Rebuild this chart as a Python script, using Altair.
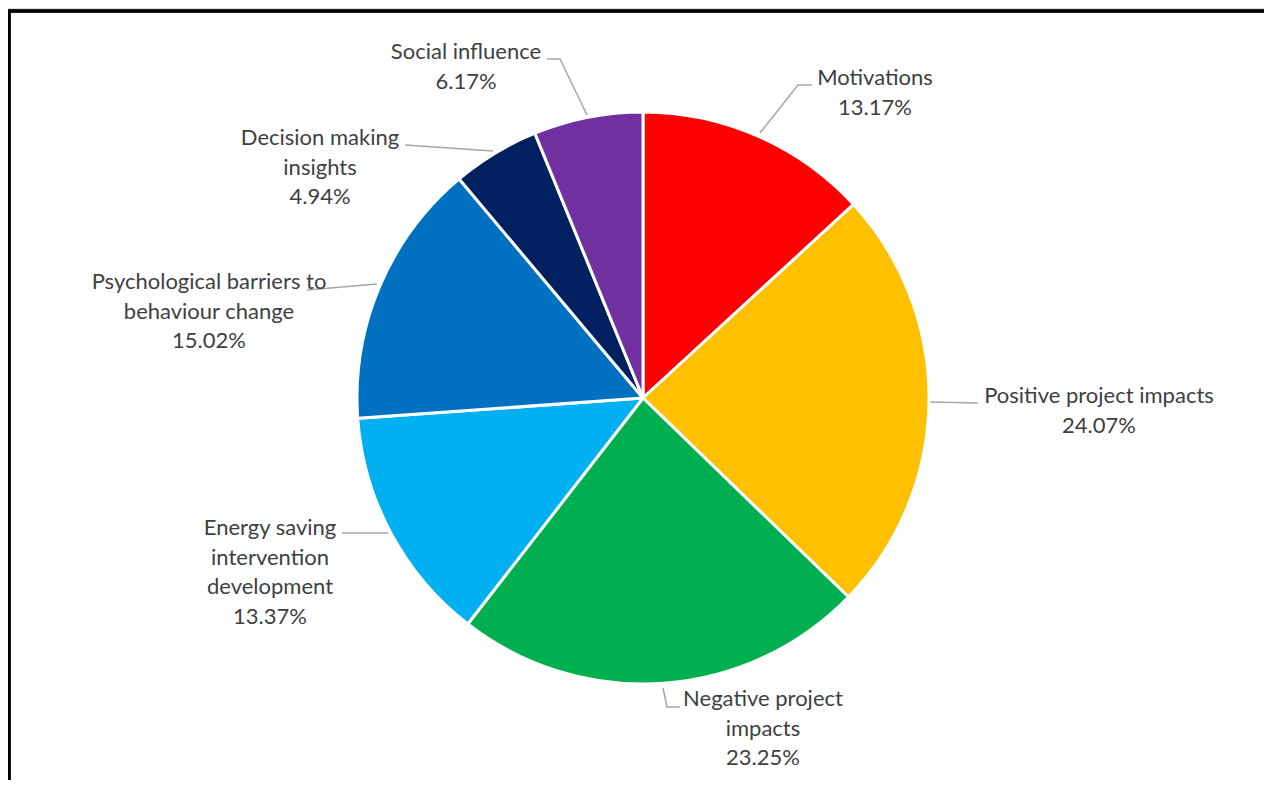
import altair as alt
import pandas as pd

# ---- data ----
categories = [
    "Motivations",
    "Positive project impacts",
    "Negative project impacts",
    "Energy saving intervention development",
    "Psychological barriers to behaviour change",
    "Decision making insights",
    "Social influence",
]
shares = [13.17, 24.07, 23.25, 13.37, 15.02, 4.94, 6.17]
colors = ["#FF0000", "#FFC000", "#00B050", "#00B0F0", "#0070C0", "#002060", "#7030A0"]
label_lines = [
    "Motivations",
    "Positive project impacts",
    "Negative project\nimpacts",
    "Energy saving\nintervention\ndevelopment",
    "Psychological barriers to\nbehaviour change",
    "Decision making\ninsights",
    "Social influence",
]

# ---- layout (page pixel coordinates; y = first text line centre) ----
CX, CY, R = 643, 398, 286
label_xy = [(875, 78), (1099, 396), (763, 699), (270, 528), (209, 282), (320, 138), (466, 52)]
leaders = [
    [(812, 85), (798, 85), (760, 133)],
    [(930, 402), (978, 403)],
    [(663, 688), (667, 707), (680, 707)],
    [(342, 533), (388, 533)],
    [(307, 290), (377, 284)],
    [(405, 145), (493, 151)],
    [(547, 59), (560, 59), (587, 115)],
]

W, H = 1256, 772
xs = alt.Scale(domain=[8, 8 + W], range=[0, W])
ys = alt.Scale(domain=[8, 8 + H], range=[0, H])

pie_df = pd.DataFrame({
    "category": categories,
    "share": shares,
    "order": list(range(len(categories))),
})

pie = alt.Chart(pie_df).mark_arc(outerRadius=R, stroke="white", strokeWidth=3).encode(
    theta=alt.Theta("share:Q", stack=True),
    order=alt.Order("order:Q"),
    color=alt.Color("category:N", scale=alt.Scale(domain=categories, range=colors), legend=None),
    x=alt.value(CX - 8),
    y=alt.value(CY - 8),
)

lab_rows = []
for cat, val, txt, (lx, ly) in zip(categories, shares, label_lines, label_xy):
    lab_rows.append({"label": txt + "\n" + f"{val:.2f}%", "lx": lx, "ly": ly})
lab_df = pd.DataFrame(lab_rows)

labels = alt.Chart(lab_df).mark_text(
    font="Lato", fontSize=22, color="#404040", align="center", baseline="middle",
    lineBreak="\n", lineHeight=29.5,
).encode(
    x=alt.X("lx:Q", scale=xs, axis=None),
    y=alt.Y("ly:Q", scale=ys, axis=None),
    text="label:N",
)

seg_rows = []
for i, pts in enumerate(leaders):
    for j, (px, py) in enumerate(pts):
        seg_rows.append({"id": i, "k": j, "px": px, "py": py})
seg_df = pd.DataFrame(seg_rows)

lines = alt.Chart(seg_df).mark_line(color="#A6A6A6", strokeWidth=1.5).encode(
    x=alt.X("px:Q", scale=xs, axis=None),
    y=alt.Y("py:Q", scale=ys, axis=None),
    detail="id:N",
    order="k:Q",
)

frame_top = alt.Chart(pie_df).mark_rule(color="black", strokeWidth=2.5).encode(
    x=alt.value(0), x2=alt.value(W), y=alt.value(3)
)
frame_left = alt.Chart(pie_df).mark_rule(color="black", strokeWidth=2.5).encode(
    x=alt.value(1), y=alt.value(3), y2=alt.value(H)
)

chart = alt.layer(lines, pie, labels, frame_top, frame_left).properties(
    width=W, height=H, autosize="none", padding=0,
).configure_view(stroke=None).configure(background="white")

chart.save("out.html", embed_options={"renderer": "svg", "actions": False})
